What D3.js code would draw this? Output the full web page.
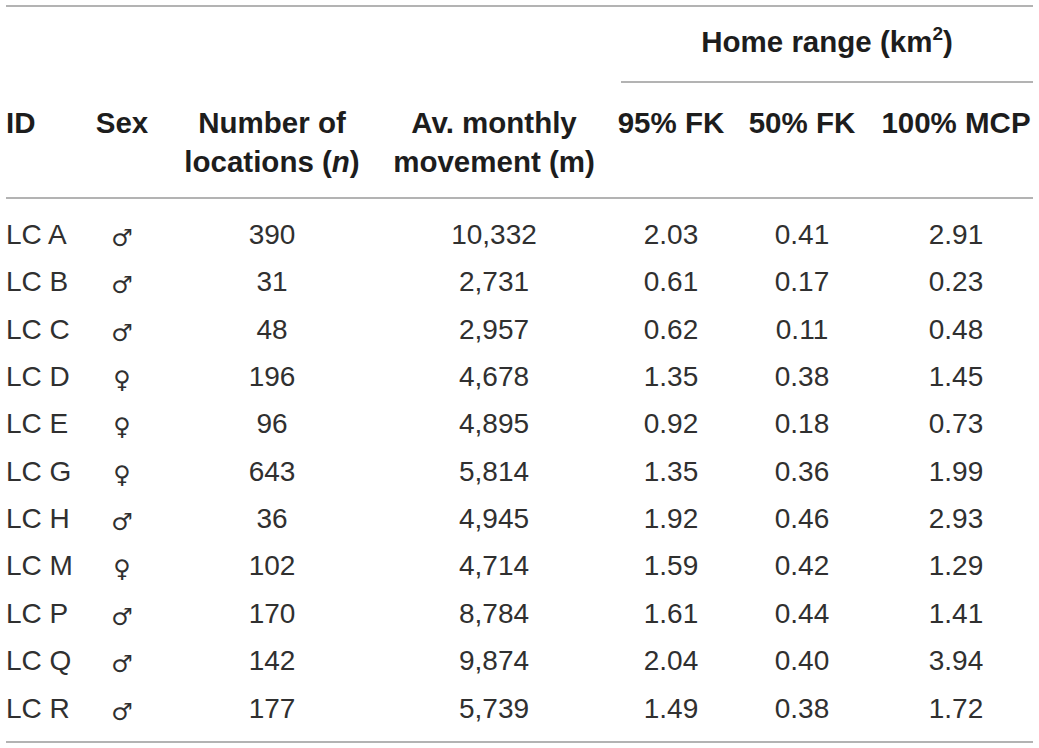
<!DOCTYPE html>
<html lang="en">
<head>
  <meta charset="UTF-8">
  <title>Home range table</title>
  <script src="https://d3js.org/d3.v7.min.js"></script>
  <style>
    body { margin: 0; background: #fff; }
    text { font-family: "Liberation Sans", Arial, Helvetica, sans-serif; }
  </style>
</head>
<body>
  <div id="viz"></div>

  <script>
    // Table data
    const ids = ["LC A", "LC B", "LC C", "LC D", "LC E", "LC G", "LC H", "LC M", "LC P", "LC Q", "LC R"];
    const sexes = ["♂", "♂", "♂", "♀", "♀", "♀", "♂", "♀", "♂", "♂", "♂"];
    const nLocations = [390, 31, 48, 196, 96, 643, 36, 102, 170, 142, 177];
    const avMovement = [10332, 2731, 2957, 4678, 4895, 5814, 4945, 4714, 8784, 9874, 5739];
    const fk95 = [2.03, 0.61, 0.62, 1.35, 0.92, 1.35, 1.92, 1.59, 1.61, 2.04, 1.49];
    const fk50 = [0.41, 0.17, 0.11, 0.38, 0.18, 0.36, 0.46, 0.42, 0.44, 0.40, 0.38];
    const mcp100 = [2.91, 0.23, 0.48, 1.45, 0.73, 1.99, 2.93, 1.29, 1.41, 3.94, 1.72];

    const columns = ["id", "sex", "n", "mov", "fk95", "fk50", "mcp"];
    const headerLine1 = ["ID", "Sex", "Number of", "Av. monthly", "95% FK", "50% FK", "100% MCP"];
    const headerLine2 = ["", "", "locations (", "movement (m)", "", "", ""];

    // Config dimensions
    const actualWidth = 1039, actualHeight = 748;
    const headSize = 29.5, bodySize = 28;

    const svg = d3.select('#viz')
      .append('svg')
        .attr('width', actualWidth)
        .attr('height', actualHeight);

    // Column anchors and row bands
    const xCol = d3.scaleOrdinal()
      .domain(columns)
      .range([6, 122, 272, 494, 671, 802, 956]);
    const anchorOf = c => c === "id" ? "start" : "middle";

    const yRow = d3.scaleBand()
      .domain(ids)
      .range([210.3, 731.2]);

    const rows = ids.map((id, i) => ({
      id: id,
      sex: sexes[i],
      n: d3.format(",")(nLocations[i]),
      mov: d3.format(",")(avMovement[i]),
      fk95: d3.format(".2f")(fk95[i]),
      fk50: d3.format(".2f")(fk50[i]),
      mcp: d3.format(".2f")(mcp100[i])
    }));

    // Rules
    const ruleColor = "#9a9a9a";
    const rules = [
      { x1: 6, x2: 1033, y: 6 },
      { x1: 621, x2: 1033, y: 82 },
      { x1: 6, x2: 1033, y: 198 },
      { x1: 6, x2: 1033, y: 742 }
    ];
    svg.selectAll("line.rule")
      .data(rules)
      .enter()
      .append("line")
        .attr("class", "rule")
        .attr("x1", d => d.x1)
        .attr("x2", d => d.x2)
        .attr("y1", d => d.y)
        .attr("y2", d => d.y)
        .attr("stroke", ruleColor)
        .attr("stroke-width", 1.5);

    // Spanning header
    const span = svg.append("text")
      .attr("x", 827)
      .attr("y", 52)
      .attr("text-anchor", "middle")
      .attr("font-size", headSize)
      .attr("font-weight", "bold")
      .attr("fill", "#1d1d1d")
      .text("Home range (km");
    span.append("tspan")
      .attr("font-size", 19)
      .attr("dy", -12)
      .text("2");
    span.append("tspan")
      .attr("dy", 12)
      .text(")");

    // Column headers
    const head = svg.append("g")
      .attr("font-size", headSize)
      .attr("font-weight", "bold")
      .attr("fill", "#1d1d1d");

    head.selectAll("text.h1")
      .data(columns)
      .enter()
      .append("text")
        .attr("class", "h1")
        .attr("x", d => xCol(d))
        .attr("y", 133)
        .attr("text-anchor", anchorOf)
        .text((d, i) => headerLine1[i]);

    const h2 = head.selectAll("text.h2")
      .data(columns.filter((c, i) => headerLine2[i] !== ""))
      .enter()
      .append("text")
        .attr("class", "h2")
        .attr("x", d => xCol(d))
        .attr("y", 172)
        .attr("text-anchor", "middle")
        .text(d => headerLine2[columns.indexOf(d)]);
    // italic n for the locations header
    h2.filter(d => d === "n")
      .call(t => {
        t.append("tspan").attr("font-style", "italic").text("n");
        t.append("tspan").text(")");
      });

    // Body cells
    const body = svg.append("g")
      .attr("fill", "#303030");

    const rowG = body.selectAll("g.row")
      .data(rows)
      .enter()
      .append("g")
        .attr("class", "row")
        .attr("transform", d => `translate(0, ${yRow(d.id) + yRow.bandwidth() / 2})`);

    rowG.selectAll("text")
      .data(d => columns.map(c => ({ col: c, value: d[c] })))
      .enter()
      .append("text")
        .attr("x", d => xCol(d.col))
        .attr("y", d => d.col === "sex" ? 12 : 10)
        .attr("text-anchor", d => anchorOf(d.col))
        .attr("font-size", d => d.col === "sex" ? 24 : bodySize)
        .style("font-family", d => d.col === "sex" ? "'DejaVu Sans', sans-serif" : null)
        .text(d => d.value);
  </script>
</body>
</html>
